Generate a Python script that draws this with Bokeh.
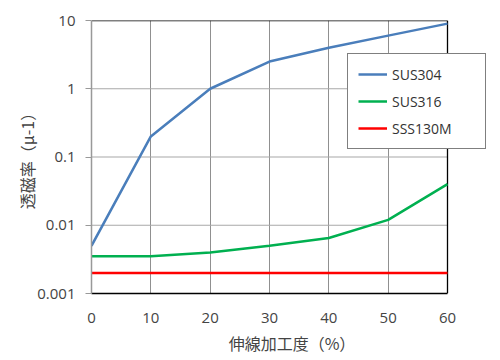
from bokeh.plotting import figure
from bokeh.models import FixedTicker, CustomJSTickFormatter, Legend, LegendItem, Range1d
from bokeh.embed import file_html
from bokeh.resources import INLINE

x_vals = [0, 10, 20, 30, 40, 50, 60]
sus304 = [0.005, 0.2, 1.0, 2.5, 4.0, 6.0, 9.0]
sus316 = [0.0035, 0.0035, 0.004, 0.005, 0.0065, 0.012, 0.04]
sss130m = [0.002, 0.002, 0.002, 0.002, 0.002, 0.002, 0.002]
y_ticks = [0.001, 0.01, 0.1, 1, 10]
x_ticks = [0, 10, 20, 30, 40, 50, 60]
names = ["SUS304", "SUS316", "SSS130M"]
colors = ["#4a7ebb", "#00b050", "#ff0000"]

# layout (pixels)
W, H = 492, 357
left, top, plot_right, bottom = 91, 20, 447, 294
# the frame extends to the canvas edge so that the legend can overhang the plot box
x_end = x_ticks[-1] * (W - left) / (plot_right - left)

p = figure(width=W, height=H, y_axis_type="log", output_backend="svg",
           toolbar_location=None, x_range=Range1d(x_ticks[0], x_end),
           y_range=Range1d(y_ticks[0], y_ticks[-1]),
           min_border_left=left, min_border_right=0, min_border_top=top,
           min_border_bottom=H - bottom)

p.outline_line_color = None
p.background_fill_color = "white"
p.border_fill_color = "white"

# vertical grid (spans full height)
p.xgrid.ticker = FixedTicker(ticks=x_ticks[1:-1])
p.xgrid.grid_line_color = "#909090"
p.xgrid.grid_line_width = 1
p.ygrid.visible = False

# horizontal grid lines limited to the plot box
p.segment(x0=[x_ticks[0]] * 3, x1=[x_ticks[-1]] * 3, y0=y_ticks[1:-1], y1=y_ticks[1:-1],
          line_color="#a8a8a8", line_width=1.2)
# plot box border: top and right
p.segment(x0=[x_ticks[0], x_ticks[-1]], x1=[x_ticks[-1], x_ticks[-1]],
          y0=[y_ticks[-1], y_ticks[0]], y1=[y_ticks[-1], y_ticks[-1]],
          line_color="black", line_width=1.3)

rs = []
for ys, c in zip([sus304, sus316, sss130m], colors):
    rs.append(p.line(x_vals, ys, line_color=c, line_width=2.5))

p.xaxis.ticker = FixedTicker(ticks=x_ticks)
p.xaxis.bounds = (x_ticks[0], x_ticks[-1])
p.yaxis.ticker = FixedTicker(ticks=y_ticks)
p.yaxis.formatter = CustomJSTickFormatter(code="return tick.toString();")
p.xaxis.axis_label = "伸線加工度（%）"
p.yaxis.axis_label = "透磁率（μ-1）"
for ax in [p.xaxis[0], p.yaxis[0]]:
    ax.axis_label_text_font = "Noto Sans CJK JP"
    ax.axis_label_text_font_size = "16px"
    ax.axis_label_text_font_style = "normal"
    ax.axis_label_text_color = "#444444"
    ax.major_label_text_font = "Open Sans"
    ax.major_label_text_font_size = "15px"
    ax.major_label_text_color = "#444444"
    ax.minor_tick_line_color = None
p.xaxis.axis_line_color = "black"
p.xaxis.axis_line_width = 1.3
p.xaxis.major_tick_line_color = None
p.xaxis.major_label_standoff = 13
p.xaxis.axis_label_standoff = 5
p.yaxis.axis_line_color = "#999999"
p.yaxis.axis_line_width = 1.5
p.yaxis.major_tick_line_color = "#999999"
p.yaxis.major_tick_out = 6
p.yaxis.major_tick_in = 0
p.yaxis.major_label_standoff = 10
p.yaxis.axis_label_standoff = -5

legend = Legend(items=[LegendItem(label=n, renderers=[r]) for n, r in zip(names, rs)],
                location=(256, 144))
legend.border_line_color = "black"
legend.border_line_width = 1.2
legend.label_text_font = "Open Sans"
legend.label_text_font_size = "14px"
legend.label_text_color = "#333333"
legend.glyph_width = 29
legend.glyph_height = 20
legend.label_height = 20
legend.label_standoff = 5
legend.spacing = 7
legend.padding = 10
legend.margin = 0
legend.label_width = 83
legend.background_fill_alpha = 1
p.add_layout(legend, "center")

open("out.html", "w").write(file_html(p, INLINE))
